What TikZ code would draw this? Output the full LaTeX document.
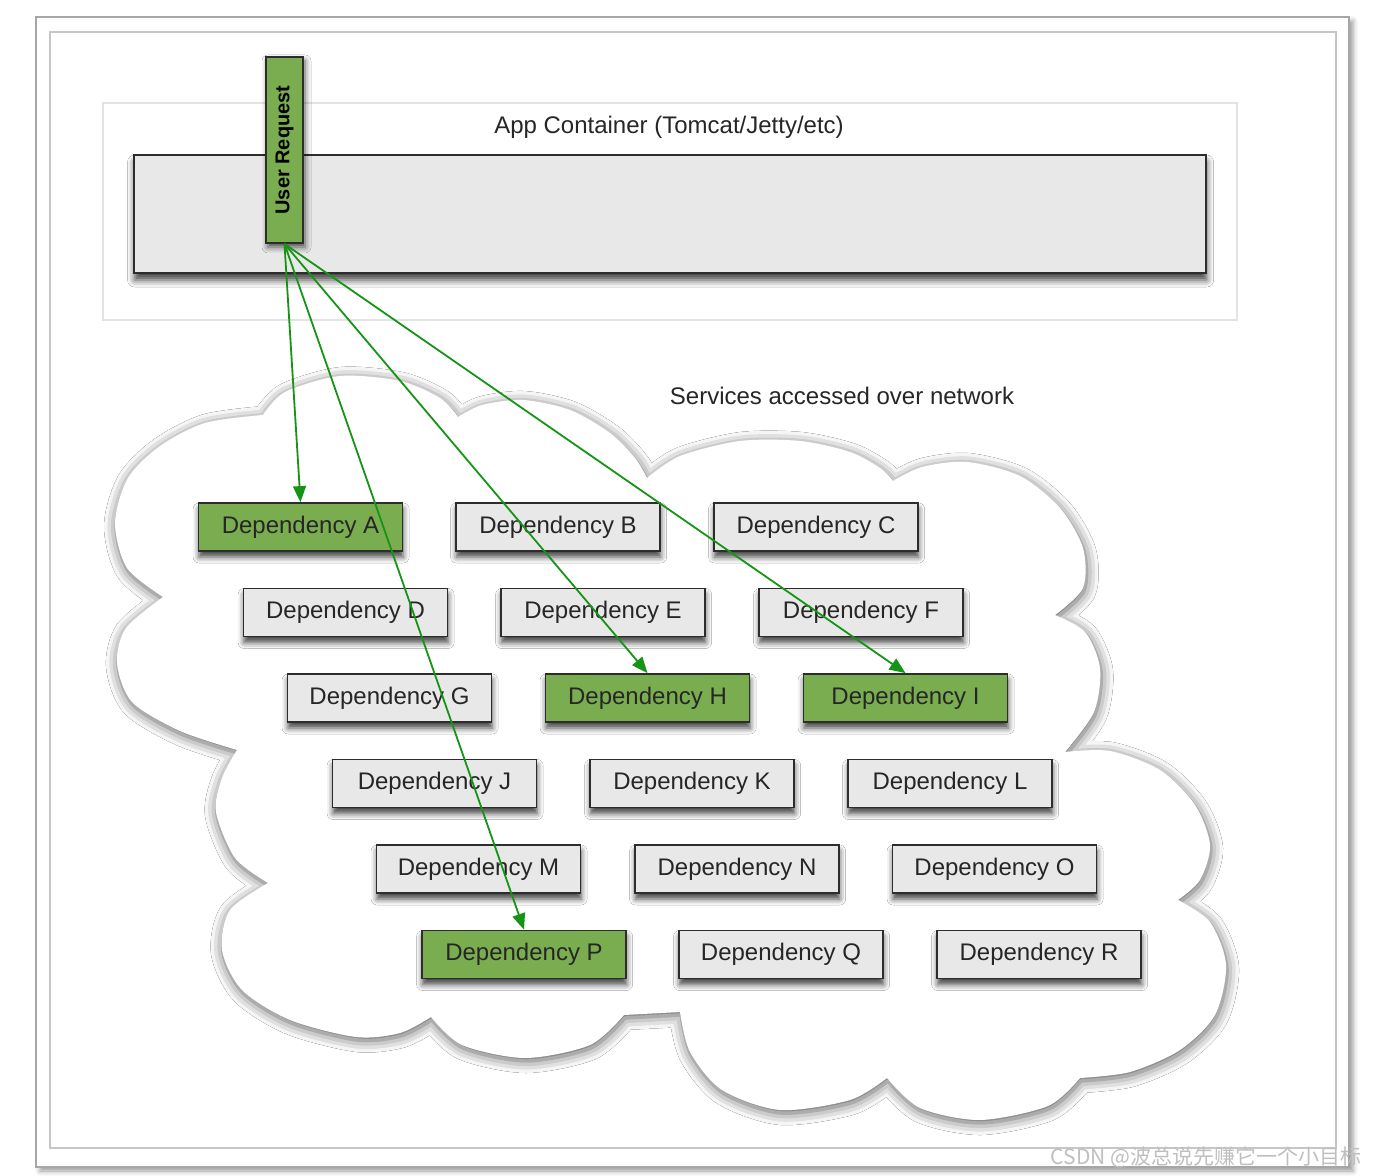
\documentclass[tikz,border=0pt]{standalone}
\usepackage{fontspec}
\usepackage{graphicx}
\setmainfont{Liberation Sans}
\newfontfamily\cjk{Noto Sans CJK SC}
\usetikzlibrary{arrows.meta,shadows.blur}
\definecolor{depgray}{RGB}{232,232,232}
\definecolor{depgreen}{RGB}{122,173,80}
\definecolor{arrgreen}{RGB}{22,148,22}
\definecolor{edgec}{RGB}{45,45,45}
\begin{document}
\begin{tikzpicture}[x=0.5pt,y=-0.5pt,
  dep/.style={draw=edgec, line width=0.9pt, fill=depgray, minimum width=102pt, minimum height=24pt,
    inner sep=0pt, font=\fontsize{12}{14}\selectfont, text=black!85,
    blur shadow={shadow xshift=0.3pt, shadow yshift=-3pt, shadow blur radius=3pt, shadow opacity=75}},
  depg/.style={dep, fill=depgreen},
  arr/.style={draw=arrgreen, line width=0.9pt, -{Triangle[length=8pt,width=6.5pt]}},
  lbl/.style={font=\fontsize{12}{14}\selectfont, text=black!85, inner sep=0pt}]
\useasboundingbox (0,0) rectangle (1376,1176);
% frames
\path[fill=white, draw=gray!70, line width=0.8pt,
  blur shadow={shadow xshift=2pt, shadow yshift=-2pt, shadow blur radius=2.5pt, shadow opacity=40}]
  (36,17) rectangle (1349,1167);
\draw[gray!45, line width=0.8pt] (50,32) rectangle (1336,1148);
\draw[gray!22, line width=0.8pt] (103,103) rectangle (1237,320);
% container
\node[draw=edgec, line width=1.1pt, fill=depgray, minimum width=536pt, minimum height=59pt, inner sep=0pt,
  blur shadow={shadow xshift=0.3pt, shadow yshift=-3.5pt, shadow blur radius=3.5pt, shadow opacity=75}]
  (app) at (670,214) {};
\node[lbl] (title) at (669,127) {App Container (Tomcat/Jetty/etc)};
\node[draw=edgec, line width=0.9pt, fill=depgreen, minimum width=18.5pt, minimum height=93pt, inner sep=0pt,
  blur shadow={shadow xshift=1pt, shadow yshift=-2pt, shadow blur radius=3pt, shadow opacity=70}]
  (ur) at (284.5,150) {\rotatebox{90}{\fontsize{10}{12}\selectfont\bfseries User Request}};
% cloud
\path[fill=white,
  blur shadow={shadow xshift=0.5pt, shadow yshift=-1.5pt, shadow blur radius=6pt, shadow opacity=65}]
  (263,415)
  -- plot[smooth] coordinates {(263,415) (285,392) (340,376) (400,381) (440,398) (458,417)}
  -- plot[smooth] coordinates {(458,417) (482,405) (523,400) (570,410) (610,433) (635,458) (647,478)}
  -- plot[smooth] coordinates {(647,478) (680,456) (740,441) (800,441) (850,452) (880,468) (893,481)}
  -- plot[smooth] coordinates {(893,481) (922,467) (967,462) (1020,476) (1060,508) (1083,548) (1083,588) (1055,615)}
  -- plot[smooth] coordinates {(1055,615) (1085,632) (1100,668) (1094,712) (1065,752)}
  -- plot[smooth] coordinates {(1065,752) (1110,751) (1160,770) (1195,805) (1210,845) (1200,880) (1178,900)}
  -- plot[smooth] coordinates {(1178,900) (1210,922) (1226,965) (1215,1015) (1180,1050) (1130,1072) (1080,1078)}
  -- plot[smooth] coordinates {(1080,1078) (1048,1106) (980,1120) (920,1108) (887,1078)}
  -- plot[smooth] coordinates {(887,1078) (850,1100) (780,1110) (722,1090) (690,1052) (680,1012)}
  -- (624,1015)
  -- plot[smooth] coordinates {(624,1015) (590,1045) (525,1058) (462,1045) (431,1017)}
  -- plot[smooth] coordinates {(431,1017) (400,1033) (356,1037) (290,1020) (242,990) (222,950) (230,910) (268,883)}
  -- plot[smooth] coordinates {(268,883) (235,858) (216,812) (222,778) (237,750)}
  -- plot[smooth] coordinates {(237,750) (180,731) (132,702) (117,663) (126,628) (163,597)}
  -- plot[smooth] coordinates {(163,597) (127,568) (115,523) (128,478) (160,446) (205,423) (263,415)}
  -- cycle;
\node[lbl] (svc) at (842,396) {Services accessed over network};
% dependencies
\node[depg] (A) at (300.5,527) {Dependency A};
\node[dep]  (B) at (558,527) {Dependency B};
\node[dep]  (C) at (816,527) {Dependency C};
\node[dep]  (D) at (345.5,612.5) {Dependency D};
\node[dep]  (E) at (603,612.5) {Dependency E};
\node[dep]  (F) at (861,612.5) {Dependency F};
\node[dep]  (G) at (389.5,698) {Dependency G};
\node[depg] (H) at (647.5,698) {Dependency H};
\node[depg] (I) at (905.5,698) {Dependency I};
\node[dep]  (J) at (434.5,783.5) {Dependency J};
\node[dep]  (K) at (692,783.5) {Dependency K};
\node[dep]  (L) at (950,783.5) {Dependency L};
\node[dep]  (M) at (478.5,869) {Dependency M};
\node[dep]  (N) at (737,869) {Dependency N};
\node[dep]  (O) at (994.5,869) {Dependency O};
\node[depg] (P) at (524,954.5) {Dependency P};
\node[dep]  (Q) at (781,954.5) {Dependency Q};
\node[dep]  (R) at (1039,954.5) {Dependency R};
% arrows
\draw[arr] (ur.south) -- (A.north);
\draw[arr] (ur.south) -- (P.north);
\draw[arr] (ur.south) -- (H.north);
\draw[arr] (ur.south) -- (I.north);
% watermark
\node[font=\cjk\fontsize{10.5}{12}\selectfont, text=gray!50, inner sep=0pt] (wm) at (1206,1157) {CSDN @波总说先赚它一个小目标};
\end{tikzpicture}
\end{document}
